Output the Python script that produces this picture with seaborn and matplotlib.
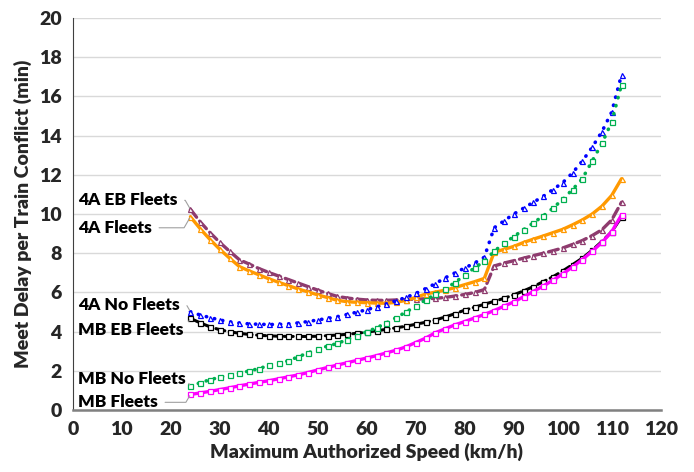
import matplotlib

matplotlib.use("Agg")

import matplotlib.pyplot as plt
import pandas as pd
import seaborn as sns


# speeds (km/h) used for every curve
speed = [24, 26, 28, 30, 32, 34, 36, 38, 40, 42, 44, 46, 48, 50, 52, 54, 56, 58, 60, 62, 64, 66, 68,
         70, 72, 74, 76, 78, 80, 82, 84, 86, 88, 90, 92, 94, 96, 98, 100, 102, 104, 106, 108, 110, 112]

fleets_4a = [9.86, 9.25, 8.7, 8.2, 7.75, 7.32, 7.1, 6.9, 6.7, 6.52, 6.35, 6.18, 6.03, 5.88, 5.74, 5.6,
             5.53, 5.5, 5.48, 5.46, 5.45, 5.5, 5.6, 5.75, 5.92, 6.02, 6.12, 6.25, 6.4, 6.55, 6.72, 8.05,
             8.2, 8.35, 8.55, 8.72, 8.88, 9.05, 9.22, 9.45, 9.7, 10.0, 10.4, 10.95, 11.8]
eb_fleets_4a = [10.24, 9.6, 9.05, 8.55, 8.1, 7.67, 7.45, 7.22, 7.02, 6.84, 6.66, 6.48, 6.3, 6.12, 5.95,
                5.8, 5.72, 5.66, 5.62, 5.6, 5.6, 5.62, 5.64, 5.66, 5.68, 5.7, 5.75, 5.82, 5.9, 6.0, 6.15,
                7.35, 7.5, 7.62, 7.75, 7.88, 8.0, 8.13, 8.27, 8.45, 8.65, 8.9, 9.2, 9.7, 10.6]
no_fleets_4a = [5.02, 4.85, 4.72, 4.6, 4.5, 4.44, 4.4, 4.38, 4.37, 4.37, 4.4, 4.45, 4.52, 4.6, 4.68,
                4.77, 4.88, 5.0, 5.12, 5.27, 5.42, 5.58, 5.75, 5.95, 6.2, 6.45, 6.75, 7.0, 7.25, 7.5,
                7.8, 9.3, 9.65, 10.0, 10.3, 10.6, 10.9, 11.25, 11.6, 12.1, 12.7, 13.4, 14.2, 15.2, 17.1]
eb_fleets_mb = [4.68, 4.45, 4.25, 4.1, 4.0, 3.92, 3.86, 3.82, 3.79, 3.77, 3.76, 3.76, 3.76, 3.77, 3.8,
                3.83, 3.87, 3.92, 3.98, 4.05, 4.12, 4.2, 4.28, 4.38, 4.48, 4.6, 4.75, 4.92, 5.1, 5.25,
                5.4, 5.55, 5.7, 5.88, 6.08, 6.3, 6.55, 6.8, 7.1, 7.42, 7.75, 8.15, 8.6, 9.1, 9.85]
no_fleets_mb = [1.22, 1.4, 1.55, 1.68, 1.78, 1.88, 2.0, 2.12, 2.28, 2.38, 2.52, 2.72, 2.92, 3.1, 3.27,
                3.4, 3.6, 3.8, 4.0, 4.2, 4.45, 4.72, 5.0, 5.3, 5.62, 5.9, 6.2, 6.5, 6.9, 7.25, 7.6, 8.1,
                8.5, 8.85, 9.2, 9.55, 9.9, 10.3, 10.75, 11.25, 11.8, 12.7, 13.6, 14.7, 16.6]
fleets_mb = [0.8, 0.88, 0.96, 1.05, 1.14, 1.24, 1.33, 1.42, 1.5, 1.6, 1.7, 1.8, 1.92, 2.05, 2.18, 2.3,
             2.42, 2.54, 2.66, 2.78, 2.92, 3.06, 3.23, 3.45, 3.67, 3.95, 4.15, 4.35, 4.52, 4.7, 4.88,
             5.08, 5.3, 5.52, 5.78, 6.05, 6.33, 6.62, 6.95, 7.3, 7.68, 8.1, 8.55, 9.1, 9.95]

series_names = ["4A EB Fleets", "4A Fleets", "4A No Fleets", "MB EB Fleets", "MB No Fleets", "MB Fleets"]
series_values = [eb_fleets_4a, fleets_4a, no_fleets_4a, eb_fleets_mb, no_fleets_mb, fleets_mb]
label_y = [10.7, 9.3, 5.35, 4.08, 1.58, 0.4]

styles = {
    "4A Fleets": dict(color="#FF9900", linestyle="-", lw=2.4, marker="^"),
    "4A EB Fleets": dict(color="#8E3B6E", linestyle=(0, (3, 1.5)), lw=2.4, marker="^"),
    "4A No Fleets": dict(color="#0000FF", linestyle=(0, (0.1, 2.2)), lw=2.6, marker="^"),
    "MB EB Fleets": dict(color="#000000", linestyle=(0, (3, 1.5)), lw=2.2, marker="s"),
    "MB No Fleets": dict(color="#00B050", linestyle=(0, (0.1, 2.2)), lw=2.6, marker="s"),
    "MB Fleets": dict(color="#FF00FF", linestyle="-", lw=2.4, marker="s"),
}

sns.set_style("white")
plt.rcParams["font.family"] = ["Lato", "DejaVu Sans"]

fig = plt.figure(figsize=(6.94, 4.72), dpi=100)
ax = fig.add_axes([0.105, 0.131, 0.847, 0.831])

for name, vals in zip(series_names, series_values):
    st = styles[name]
    df = pd.DataFrame({"speed": speed, "delay": vals})
    sns.lineplot(data=df, x="speed", y="delay", ax=ax, color=st["color"], linestyle=st["linestyle"],
                 lw=st["lw"], marker=st["marker"], markersize=3.6, markerfacecolor="white",
                 markeredgecolor=st["color"], markeredgewidth=0.9, dash_capstyle="round",
                 solid_capstyle="round", zorder=3)

# labels at the start of each curve, with grey leader lines
for name, vals, ty in zip(series_names, series_values, label_y):
    angle_b = 60 if vals[0] > ty else 120
    ax.annotate(name, xy=(speed[0], vals[0]), xytext=(1, ty), fontsize=12.5,
                fontweight="heavy", va="center", ha="left", color="black",
                arrowprops=dict(arrowstyle="-", color="#A0A0A0", lw=0.8, shrinkA=3, shrinkB=1,
                                connectionstyle=f"angle,angleA=0,angleB={angle_b},rad=0"),
                annotation_clip=False, zorder=5)

ax.set_xlim(0, 120)
ax.set_ylim(0, 20)
ax.set_xticks(range(0, 121, 10))
ax.set_yticks(range(0, 21, 2))
ax.tick_params(axis="both", labelsize=14, length=0, pad=8)
for lab in ax.get_xticklabels() + ax.get_yticklabels():
    lab.set_fontweight("heavy")
ax.yaxis.grid(True, color="#D9D9D9", lw=1)
ax.xaxis.grid(False)
ax.set_axisbelow(True)
for side in ["top", "right"]:
    ax.spines[side].set_visible(False)
ax.spines["bottom"].set_color("#808080")
ax.spines["bottom"].set_linewidth(1.8)
ax.spines["left"].set_color("#404040")
ax.spines["left"].set_linewidth(0.8)

ax.set_xlabel("Maximum Authorized Speed (km/h)", fontsize=14, fontweight="heavy", labelpad=3)
ax.set_ylabel("Meet Delay per Train Conflict (min)", fontsize=14, fontweight="heavy", labelpad=5)

fig.savefig("out.png", dpi=100)
